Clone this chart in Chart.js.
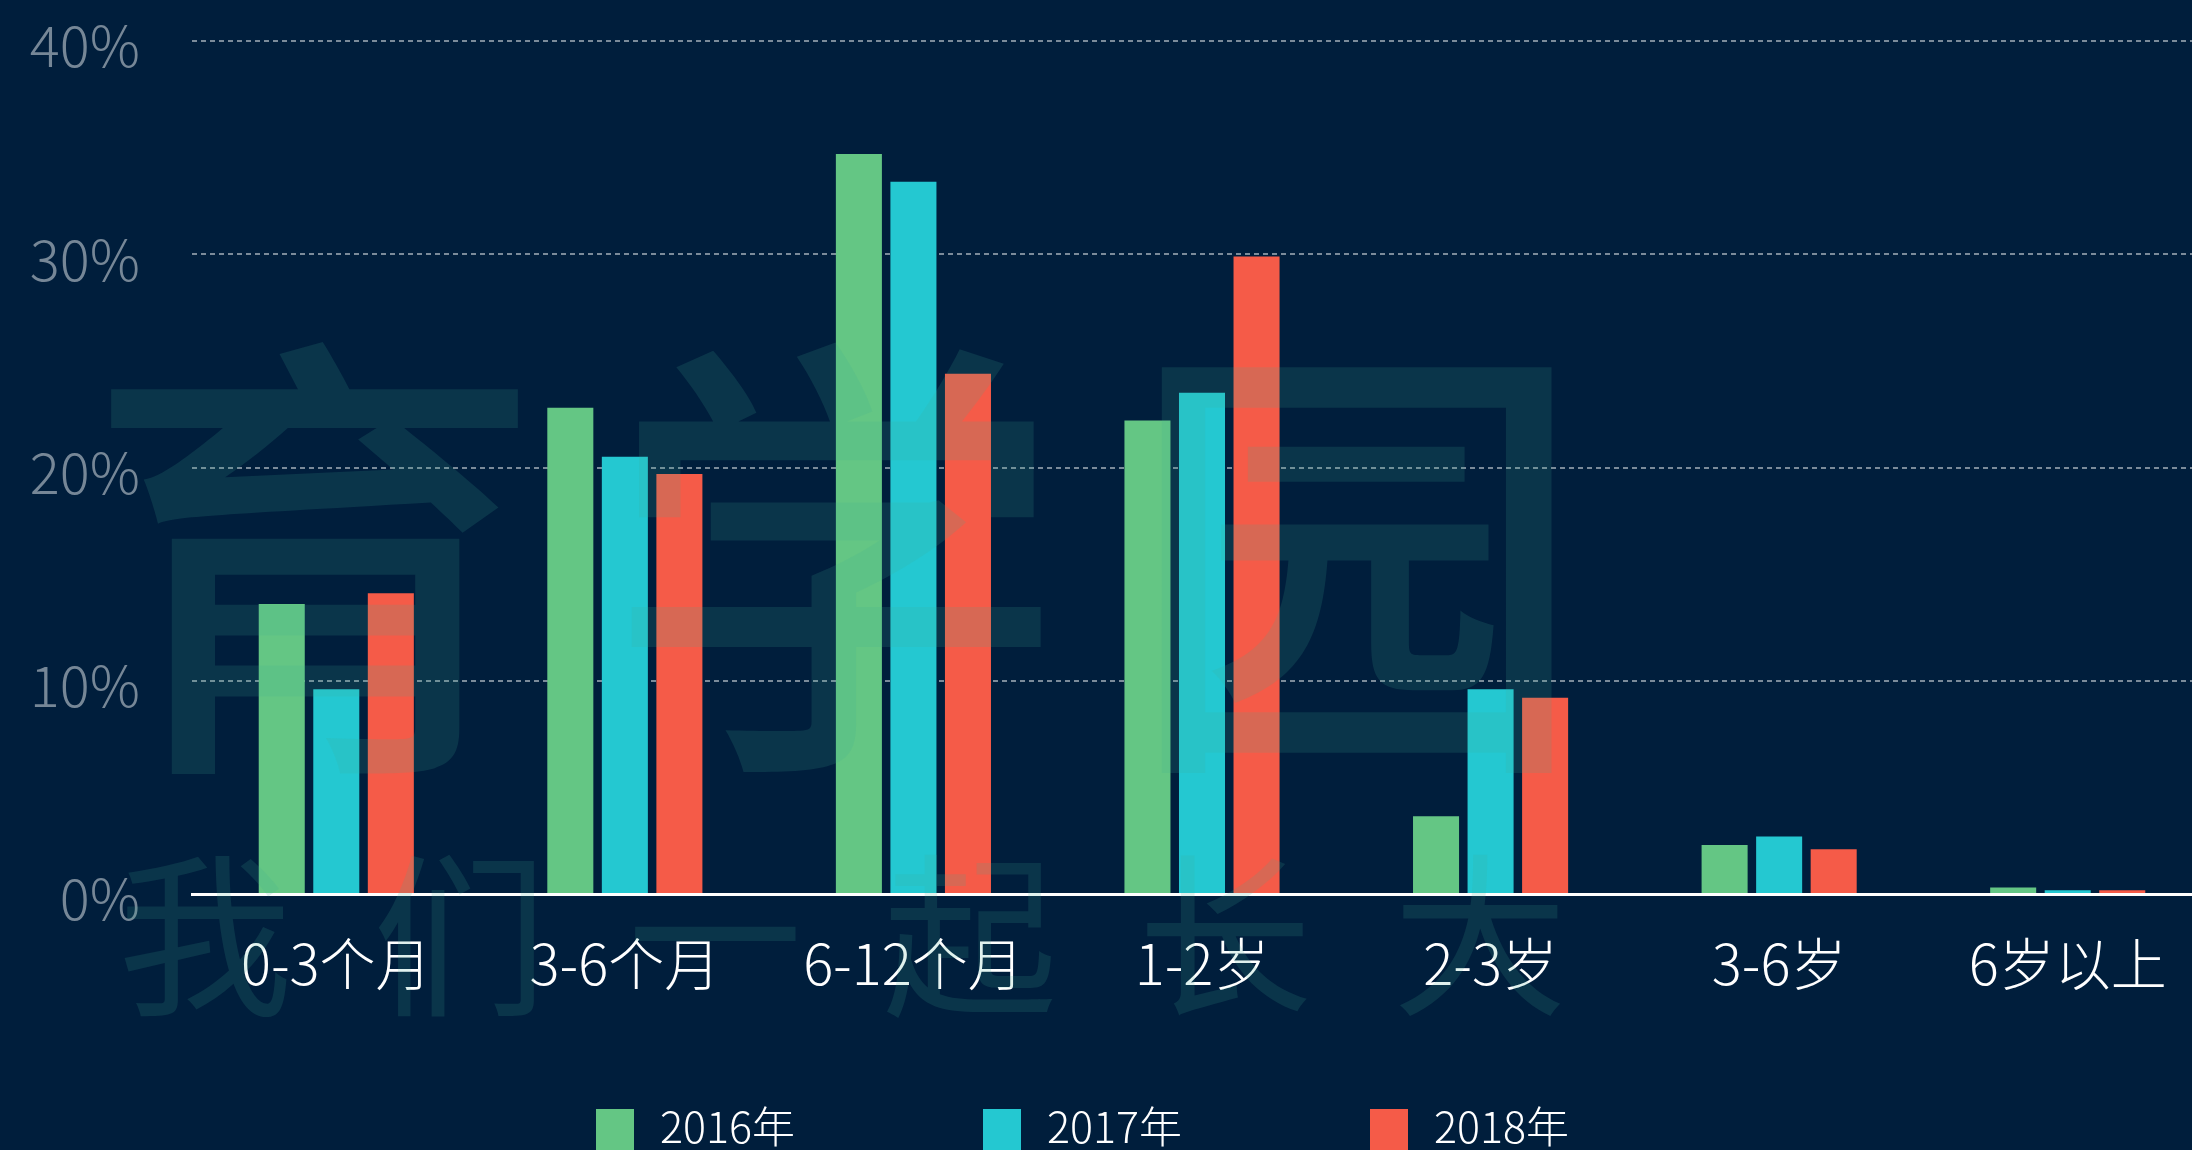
<!DOCTYPE html>
<html>
<head>
<meta charset="utf-8">
<script src="https://cdn.jsdelivr.net/npm/chart.js@4.4.1/dist/chart.umd.min.js"></script>
<style>
html,body{margin:0;padding:0;background:#001e3c;overflow:hidden;width:2192px;height:1150px;}
#wrap{position:absolute;left:0;top:0;width:2212px;height:1150px;}
</style>
</head>
<body>
<div id="wrap"><canvas id="c"></canvas></div>
<script>
// ---- data ----
const categories = ['0-3个月', '3-6个月', '6-12个月', '1-2岁', '2-3岁', '3-6岁', '6岁以上'];
const seriesNames = ['2016年', '2017年', '2018年'];
const values2016 = [13.6, 22.8, 34.7, 22.2, 3.65, 2.3, 0.3];
const values2017 = [9.6, 20.5, 33.4, 23.5, 9.6, 2.7, 0.18];
const values2018 = [14.1, 19.7, 24.4, 29.9, 9.2, 2.1, 0.18];
const yTickValues = [0, 10, 20, 30, 40];
const watermarkLine1 = ['育', '学', '园'];
const watermarkLine2 = ['我', '们', '一', '起', '长', '大'];

// ---- style ----
const BG = '#001e3c';
const COLORS = ['#64c684', '#24c8d1', '#f55b48'];
const FONT = '"Noto Sans CJK SC", "Noto Sans", sans-serif';

const bgPlugin = {
  id: 'bg',
  beforeDraw(chart) {
    const c = chart.ctx;
    c.save();
    c.fillStyle = BG;
    c.fillRect(0, 0, chart.width, chart.height);
    c.restore();
  }
};

const watermarkPlugin = {
  id: 'watermark',
  afterDatasetsDraw(chart) {
    const c = chart.ctx;
    c.save();
    c.fillStyle = 'rgba(64,172,150,0.16)';
    c.textAlign = 'center';
    c.textBaseline = 'middle';
    c.font = '500 460px ' + FONT;
    watermarkLine1.forEach((ch, i) => c.fillText(ch, 314 + i * 521, 560));
    c.font = '400 175px ' + FONT;
    watermarkLine2.forEach((ch, i) => c.fillText(ch, 205 + i * 255, 935));
    c.restore();
  }
};

const legendPlugin = {
  id: 'customLegend',
  afterDraw(chart) {
    const c = chart.ctx;
    c.save();
    c.font = '300 43px ' + FONT;
    c.textBaseline = 'alphabetic';
    c.textAlign = 'left';
    chart.data.datasets.forEach((d, i) => {
      const x = 596 + i * 387;
      c.fillStyle = d.backgroundColor;
      c.fillRect(x, 1109, 38, 44);
      c.fillStyle = '#ffffff';
      c.fillText(d.label, x + 64, 1143);
    });
    c.restore();
  }
};

const datasets = [values2016, values2017, values2018].map((vals, i) => ({
  label: seriesNames[i],
  data: vals,
  backgroundColor: COLORS[i],
  borderWidth: 0,
  categoryPercentage: 0.567,
  barPercentage: 0.844
}));

new Chart(document.getElementById('c'), {
  type: 'bar',
  data: { labels: categories, datasets },
  plugins: [bgPlugin, watermarkPlugin, legendPlugin],
  options: {
    responsive: true,
    maintainAspectRatio: false,
    animation: false,
    layout: { padding: { top: 41, left: 0, right: 0, bottom: 0 } },
    plugins: { legend: { display: false }, tooltip: { enabled: false } },
    scales: {
      x: {
        afterFit(s) { s.height = 256; s.paddingLeft = 0; s.paddingRight = 0; },
        grid: { display: false, drawTicks: false },
        border: { display: true, color: '#ffffff', width: 3 },
        ticks: {
          color: '#ffffff',
          padding: 36,
          maxRotation: 0,
          autoSkip: false,
          font: { family: FONT, size: 56, weight: '300' }
        }
      },
      y: {
        min: 0,
        max: 40,
        afterFit(s) { s.width = 192; s.paddingTop = 0; s.paddingBottom = 0; },
        afterBuildTicks(s) { s.ticks = yTickValues.map(v => ({ value: v })); },
        grid: { color: '#7b8b9a', lineWidth: 2, drawTicks: false },
        border: { display: false, dash: [5, 4] },
        ticks: {
          color: '#768797',
          padding: 52,
          labelOffset: 5,
          font: { family: FONT, size: 56, weight: '300' },
          callback: v => v + '%'
        }
      }
    }
  }
});
</script>
</body>
</html>
